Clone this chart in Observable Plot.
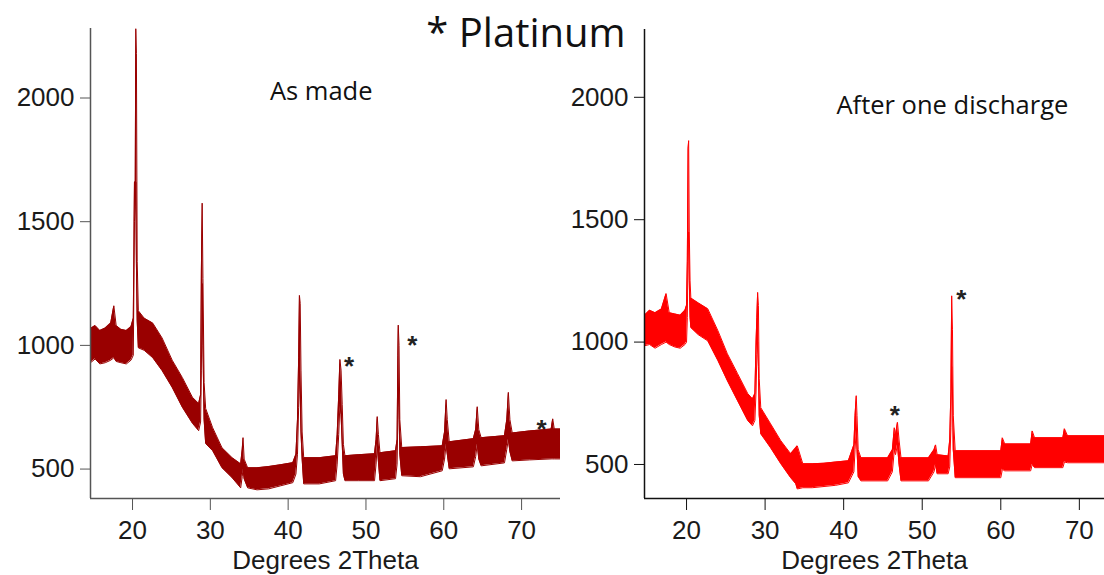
<!DOCTYPE html>
<html>
<head>
<meta charset="utf-8">
<script src="https://cdn.jsdelivr.net/npm/d3@7"></script>
<script src="https://cdn.jsdelivr.net/npm/@observablehq/plot@0.6"></script>
<style>
  html, body { margin: 0; padding: 0; background: #fff; }
  #wrap { position: relative; width: 1104px; height: 575px; overflow: hidden; }
  .panel { position: absolute; top: 0; }
  #title { position: absolute; left: 0; width: 1052px; top: 12px; text-align: center;
           font-family: "Open Sans", sans-serif; font-size: 40px; color: #111; line-height: 1; }
</style>
</head>
<body>
<div id="wrap">
  <div id="left" class="panel" style="left:0px"></div>
  <div id="right" class="panel" style="left:552px"></div>
  <div id="title">* Platinum</div>
</div>
<script>
// ---- Data (2θ, lower and upper edge of the noisy trace) ----
const asMadeX  = [14.6,15.2,15.8,16.5,17.2,17.6,17.9,18.5,19.2,19.8,20.1,20.25,20.35,20.42,20.5,20.6,20.75,21.5,22.6,23.8,25.1,26.4,27.7,28.5,28.75,28.85,28.95,29.05,29.2,29.4,30.3,31.5,32.8,33.9,34.1,34.2,34.35,34.8,36,37.5,39,40.6,41.0,41.2,41.35,41.45,41.55,41.65,41.8,42.0,44,46.1,46.3,46.5,46.65,46.8,46.95,47.1,47.3,49,51.1,51.3,51.45,51.6,51.8,53.8,54.0,54.1,54.15,54.25,54.35,54.6,57,59.8,60.1,60.3,60.45,60.7,63.8,64.1,64.3,64.5,64.8,67.8,68.1,68.3,68.5,68.8,71,73.8,74.0,74.2,75];
const asMadeLo = [930,945,925,930,940,950,935,930,925,940,960,1500,1560,1660,1330,1100,990,980,950,898,830,750,685,655,690,900,1250,1000,700,603,574,505,465,424,470,500,460,424,416,420,432,445,480,560,750,900,800,650,540,440,440,453,520,640,760,720,600,480,453,453,453,520,600,530,453,461,520,700,820,750,560,473,469,493,540,600,560,501,509,550,600,540,513,525,580,620,570,533,537,541,541,541,541];
const asMadeHi = [1068,1080,1060,1070,1090,1160,1080,1065,1060,1075,1110,1660,1660,2280,2180,1340,1140,1110,1090,1030,940,870,790,765,800,1300,1575,1270,850,745,667,586,546,521,580,627,540,505,505,510,517,526,560,700,950,1202,1170,900,650,546,546,554,640,800,943,900,760,600,554,558,562,620,712,640,566,574,620,960,1082,1000,700,587,590,594,650,781,700,610,623,660,752,660,627,635,700,810,700,646,654,662,703,662,662];

const dischargeX  = [14.65,15.3,16.0,16.8,17.4,17.8,18.5,19.2,19.8,20.0,20.1,20.2,20.27,20.35,20.45,20.55,21.5,22.7,24.0,25.2,26.5,27.8,28.4,28.7,28.85,28.95,29.05,29.15,29.25,29.45,30.7,32.0,33.25,33.9,34.1,34.8,36,37.5,39,40.6,41.3,41.45,41.6,41.7,41.85,42.2,45.6,46.2,46.45,46.6,46.85,47.05,47.3,50.8,51.5,51.7,51.9,53.3,53.5,53.65,53.75,53.85,53.95,54.2,60.0,60.2,60.5,63.8,64.0,64.3,67.9,68.1,68.5,73.2];
const dischargeLo = [985,990,975,990,1000,990,980,975,990,1000,1100,1400,1450,1250,1100,1059,1030,1005,924,842,760,679,658,680,800,950,1000,900,700,625,568,503,446,421,400,405,405,410,415,425,470,560,640,560,450,433,433,470,560,540,580,500,433,433,470,500,462,462,490,650,900,800,560,446,446,480,474,474,500,487,487,510,507,507];
const dischargeHi = [1110,1130,1120,1135,1198,1120,1115,1110,1130,1150,1330,1790,1823,1450,1250,1180,1160,1136,1046,952,871,789,768,790,1000,1100,1203,1150,850,732,666,597,544,568,576,503,503,505,510,515,580,700,781,700,560,527,527,560,650,620,672,600,527,527,560,580,540,535,600,800,1189,1050,700,556,556,609,584,584,637,609,609,646,617,617];

// Platinum markers (2θ, intensity of the "*" label)
const asMadeStarX = [47.84, 55.97, 72.58];
const asMadeStarY = [938, 1022, 682];
const dischargeStarX = [46.5, 54.98];
const dischargeStarY = [722, 1199];

// Axis ticks and text
const xTicks = [20, 30, 40, 50, 60, 70];
const yTicks = [500, 1000, 1500, 2000];
const xAxisLabel = "Degrees 2Theta";
const panelTitles = ["As made", "After one discharge"];

function rows(xs, lo, hi) { return xs.map((x, i) => ({x, lo: lo[i], hi: hi[i]})); }
function stars(xs, ys) { return xs.map((x, i) => ({x, y: ys[i]})); }

function panel({data, starData, color, axisColor, width, marginLeft, xDomain, yDomain, marginTop, title, titleX, titleY}) {
  return Plot.plot({
    width, height: 575,
    marginLeft, marginRight: 0, marginTop, marginBottom: 77,
    x: {domain: xDomain},
    y: {domain: yDomain},
    style: {fontFamily: "'Liberation Sans', Arial, sans-serif", fontSize: "26px", color: "#1a1a1a", background: "transparent", overflow: "visible"},
    marks: [
      Plot.areaY(data, {x: "x", y1: "lo", y2: "hi", fill: color, curve: "linear", clip: true}),
      Plot.line(data, {x: "x", y: "hi", stroke: color, strokeWidth: 1, clip: true}),
      Plot.line(data, {x: "x", y: "lo", stroke: color, strokeWidth: 1, clip: true}),
      Plot.ruleX([xDomain[0]], {stroke: axisColor, strokeWidth: 1.5}),
      Plot.ruleY([yDomain[0]], {stroke: axisColor, strokeWidth: 1.5}),
      Plot.axisX(xTicks, {tickSize: 12, tickPadding: 10, stroke: axisColor, label: null, fontSize: 26, tickFormat: d => String(d)}),
      Plot.axisY(yTicks, {tickSize: 10, tickPadding: 6, stroke: axisColor, label: null, fontSize: 26, tickFormat: d => String(d)}),
      Plot.text([xAxisLabel], {frameAnchor: "bottom", dy: 70, fontSize: 26}),
      Plot.text(starData, {x: "x", y: "y", text: () => "*", fontSize: 26, fontWeight: "bold", dy: 6, fill: "#222"}),
      Plot.text([title], {x: () => titleX, y: () => titleY, fontSize: 25.5, fontFamily: "'Open Sans', sans-serif", fill: "#111"})
    ]
  });
}

document.getElementById("left").append(panel({
  data: rows(asMadeX, asMadeLo, asMadeHi),
  starData: stars(asMadeStarX, asMadeStarY),
  color: "#990000", axisColor: "#555",
  width: 560, marginLeft: 90, marginTop: 28,
  xDomain: [14.6, 75], yDomain: [381, 2281],
  title: panelTitles[0], titleX: 44.25, titleY: 2023
}));

document.getElementById("right").append(panel({
  data: rows(dischargeX, dischargeLo, dischargeHi),
  starData: stars(dischargeStarX, dischargeStarY),
  color: "#ff0000", axisColor: "#111",
  width: 552, marginLeft: 92, marginTop: 29,
  xDomain: [14.65, 73.2], yDomain: [361, 2277],
  title: panelTitles[1], titleX: 53.84, titleY: 1966
}));
</script>
</body>
</html>
